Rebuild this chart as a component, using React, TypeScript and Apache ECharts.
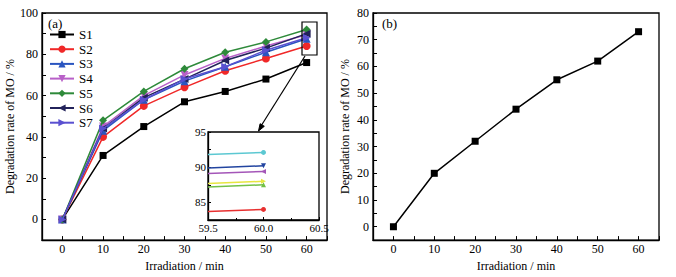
import React, { useEffect, useRef } from 'react';
import * as echarts from 'echarts';

const times = [0, 10, 20, 30, 40, 50, 60];
const s1 = [0, 31, 45, 57, 62, 68, 76];
const s2 = [0, 40, 55, 64, 72, 78, 84];
const s3 = [0, 43, 58, 67, 74, 81, 87.5];
const s4 = [0, 45, 60, 70, 78, 84, 89.5];
const s5 = [0, 48, 62, 73, 81, 86, 92];
const s6 = [0, 44, 59, 68, 77, 83, 90];
const s7 = [0, 44, 58, 68, 74, 82, 88];
const seriesNames = ['S1', 'S2', 'S3', 'S4', 'S5', 'S6', 'S7'];
const seriesValues = [s1, s2, s3, s4, s5, s6, s7];
const seriesColors = ['#000000', '#f02828', '#2a55c0', '#b860c8', '#2e8a3a', '#22225a', '#5a50d0'];
const seriesSymbols = ['rect', 'circle', 'triangle', 'triangle', 'diamond', 'triangle', 'triangle'];
const seriesRotate = [0, 0, 0, 180, 0, 90, -90];

const insetTimes = [59.5, 60.0];
const insetStart = [91.8, 89.9, 89.1, 87.7, 87.2, 83.7];
const insetEnd = [92.1, 90.2, 89.4, 88.0, 87.5, 84.0];
const insetColors = ['#5cc8d2', '#2244a0', '#a456b8', '#e6e640', '#72c046', '#e83030'];
const insetSymbols = ['circle', 'triangle', 'triangle', 'triangle', 'triangle', 'circle'];
const insetRotate = [0, 180, 90, -90, 0, 0];

const bTimes = [0, 10, 20, 30, 40, 50, 60];
const bValues = [0, 20, 32, 44, 55, 62, 73];

const FONT = 'Liberation Serif';

export default function App() {
  const ref = useRef<HTMLDivElement>(null);
  useEffect(() => {
    if (!ref.current) return;
    const chart = echarts.init(ref.current, undefined, { renderer: 'svg' });

    const axisLine = { show: true, onZero: false, lineStyle: { color: '#000', width: 1.3 } };
    const label = (fmt: (v: number) => string, size = 12, margin = 3) => ({
      color: '#000', fontFamily: FONT, fontSize: size, margin, formatter: fmt,
    });
    const tick = (len = 4) => ({ inside: true, length: len, lineStyle: { color: '#000', width: 1 } });

    const mainSeries = seriesNames.map((n, i) => ({
      name: n,
      type: 'line',
      xAxisIndex: 0,
      yAxisIndex: 0,
      data: times.map((t, j) => [t, seriesValues[i][j]]),
      symbol: seriesSymbols[i],
      symbolRotate: seriesRotate[i],
      symbolSize: i === 0 ? 7 : 8,
      color: seriesColors[i],
      lineStyle: { width: 1.5, color: seriesColors[i] },
      itemStyle: { color: seriesColors[i] },
      z: 3 + i,
    }));

    const insetSeries = insetStart.map((v, i) => ({
      type: 'line',
      xAxisIndex: 2,
      yAxisIndex: 2,
      data: [
        { value: [insetTimes[0], v], symbol: 'none' },
        { value: [insetTimes[1], insetEnd[i]] },
      ],
      symbol: insetSymbols[i],
      symbolRotate: insetRotate[i],
      symbolSize: 5,
      showSymbol: true,
      color: insetColors[i],
      lineStyle: { width: 1.5, color: insetColors[i] },
      itemStyle: { color: insetColors[i] },
      z: 15,
    }));

    const option: any = {
      animation: false,
      backgroundColor: '#ffffff',
      textStyle: { fontFamily: FONT },
      grid: [
        { left: 42, top: 13, width: 285, height: 234, show: true, borderColor: '#000', borderWidth: 1.3, containLabel: false },
        { left: 373, top: 13, width: 286, height: 234, show: true, borderColor: '#000', borderWidth: 1.3, containLabel: false },
        { left: 208, top: 132, width: 111, height: 88, show: true, borderColor: '#000', borderWidth: 1.3, containLabel: false },
      ],
      legend: {
        data: seriesNames,
        orient: 'vertical',
        left: 49,
        top: 28,
        padding: 0,
        itemWidth: 24,
        itemHeight: 9,
        itemGap: 1.7,
        textStyle: { fontFamily: FONT, fontSize: 13, color: '#000' },
      },
      xAxis: [
        {
          type: 'value', gridIndex: 0, min: -5, max: 65, interval: 5,
          axisLine, axisTick: tick(4), splitLine: { show: false },
          axisLabel: label((v: number) => (v >= 0 && v % 10 === 0 ? String(v) : ''), 12, 3),
          name: 'Irradiation / min', nameLocation: 'middle', nameGap: 15,
          nameTextStyle: { fontFamily: FONT, fontSize: 12, color: '#000' },
        },
        {
          type: 'value', gridIndex: 1, min: -5, max: 65, interval: 5,
          axisLine, axisTick: tick(4), splitLine: { show: false },
          axisLabel: label((v: number) => (v >= 0 && v % 10 === 0 ? String(v) : ''), 12, 3),
          name: 'Irradiation / min', nameLocation: 'middle', nameGap: 15,
          nameTextStyle: { fontFamily: FONT, fontSize: 12, color: '#000' },
        },
        {
          type: 'value', gridIndex: 2, min: 59.5, max: 60.5, interval: 0.5,
          axisLine, axisTick: tick(3), minorTick: { show: true, splitNumber: 2, length: 2, lineStyle: { color: '#000' } },
          splitLine: { show: false }, minorSplitLine: { show: false },
          axisLabel: label((v: number) => v.toFixed(1), 11, 2),
        },
      ],
      yAxis: [
        {
          type: 'value', gridIndex: 0, min: -10, max: 100, interval: 10,
          axisLine, axisTick: tick(4), splitLine: { show: false },
          axisLabel: label((v: number) => (v >= 0 && v % 20 === 0 ? String(v) : ''), 12, 4),
          name: 'Degradation rate of MO / %', nameLocation: 'middle', nameGap: 24,
          nameTextStyle: { fontFamily: FONT, fontSize: 12, color: '#000' },
        },
        {
          type: 'value', gridIndex: 1, min: -5, max: 80, interval: 5,
          axisLine, axisTick: tick(4), splitLine: { show: false },
          axisLabel: label((v: number) => (v >= 0 && v % 10 === 0 ? String(v) : ''), 12, 4),
          name: 'Degradation rate of MO / %', nameLocation: 'middle', nameGap: 22,
          nameTextStyle: { fontFamily: FONT, fontSize: 12, color: '#000' },
        },
        {
          type: 'value', gridIndex: 2, min: 82.5, max: 95, interval: 2.5,
          axisLine, axisTick: tick(3), splitLine: { show: false },
          axisLabel: label((v: number) => (Math.abs(v % 5) < 1e-6 ? String(v) : ''), 11, 2),
        },
      ],
      series: [
        ...mainSeries,
        ...insetSeries,
        {
          name: 'b',
          type: 'line',
          xAxisIndex: 1,
          yAxisIndex: 1,
          data: bTimes.map((t, j) => [t, bValues[j]]),
          symbol: 'rect',
          symbolSize: 7,
          color: '#000',
          lineStyle: { width: 1.5, color: '#000' },
          itemStyle: { color: '#000' },
        },
      ],
      graphic: [
        { type: 'text', left: 48, top: 17, z: 20, style: { text: '(a)', fontFamily: FONT, fontSize: 13, fill: '#000' } },
        { type: 'text', left: 382, top: 17, z: 20, style: { text: '(b)', fontFamily: FONT, fontSize: 13, fill: '#000' } },
        { type: 'rect', z: 20, shape: { x: 302, y: 22, width: 15, height: 33 }, style: { stroke: '#000', lineWidth: 1.2, fill: 'none' } },
        { type: 'line', z: 20, shape: { x1: 305, y1: 56, x2: 261, y2: 126 }, style: { stroke: '#000', lineWidth: 1.2 } },
        { type: 'polygon', z: 20, shape: { points: [[258.5, 131], [264.3, 126.3], [260.1, 123.7]] }, style: { fill: '#000', stroke: '#000' } },
      ],
    };
    chart.setOption(option);
    return () => chart.dispose();
  }, []);
  return <div ref={ref} style={{ position: 'fixed', left: 0, top: 0, width: 676, height: 277 }} />;
}
